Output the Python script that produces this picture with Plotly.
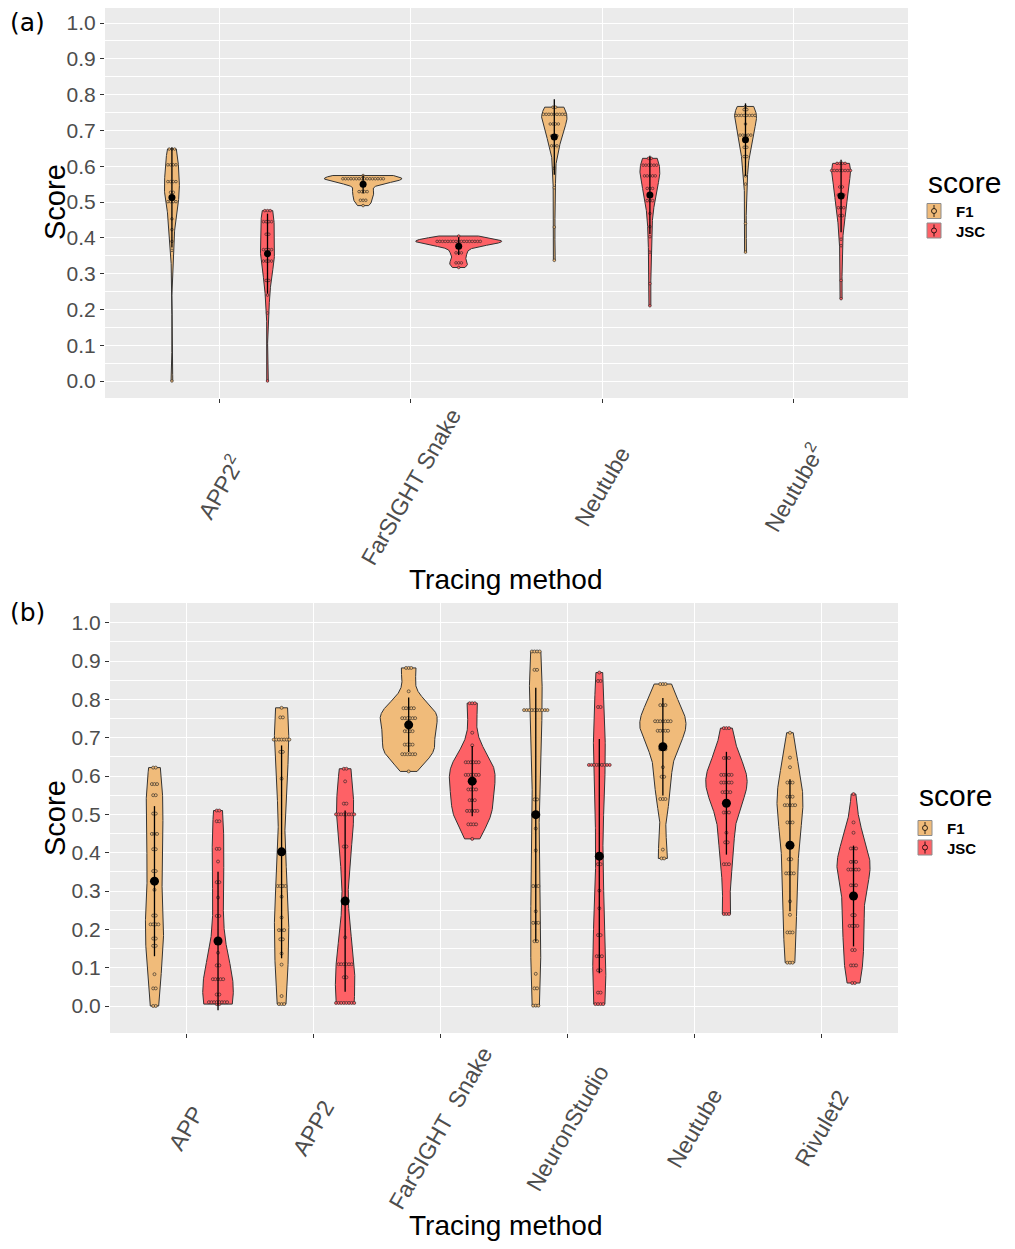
import numpy as np
import plotly.graph_objects as go

# ---------------- data ----------------
SCORES = ["F1", "JSC"]

# Panel (a)
CATS_A = ["APP2<sup>2</sup>", "FarSIGHT Snake", "Neutube", "Neutube<sup>2</sup>"]

A_F1_APP2SQ = [0.648, 0.648, 0.648, 0.604, 0.604, 0.604, 0.604, 0.557, 0.557, 0.557, 0.557,
               0.527, 0.527, 0.501, 0.501, 0.501, 0.501, 0.453, 0.423, 0.39, 0.365, 0.0]
A_F1_FARSIGHT = [0.574, 0.565, 0.565, 0.565, 0.565, 0.565, 0.565, 0.565, 0.565, 0.565, 0.565,
                 0.565, 0.565, 0.565, 0.565, 0.565, 0.565, 0.529, 0.529, 0.529, 0.529,
                 0.505, 0.505, 0.505, 0.49]
A_F1_NEUTUBE = [0.765, 0.765, 0.745, 0.745, 0.745, 0.745, 0.745, 0.745, 0.745, 0.745, 0.745,
                0.718, 0.718, 0.718, 0.718, 0.685, 0.685, 0.685, 0.657, 0.657, 0.657,
                0.594, 0.54, 0.43, 0.337]
A_F1_NEUTUBE2 = [0.767, 0.758, 0.758, 0.742, 0.742, 0.742, 0.742, 0.742, 0.742, 0.742, 0.742,
                 0.718, 0.687, 0.687, 0.687, 0.687, 0.687, 0.653, 0.653, 0.627, 0.627,
                 0.573, 0.55, 0.44, 0.36]

A_JSC_APP2SQ = [0.476, 0.476, 0.476, 0.445, 0.445, 0.445, 0.445, 0.41, 0.41, 0.367, 0.367,
                0.367, 0.367, 0.335, 0.335, 0.335, 0.335, 0.281, 0.281, 0.24, 0.19, 0.0]
A_JSC_FARSIGHT = [0.405, 0.39, 0.39, 0.39, 0.39, 0.39, 0.39, 0.39, 0.39, 0.39, 0.39, 0.39,
                  0.39, 0.39, 0.39, 0.39, 0.39, 0.39, 0.358, 0.358, 0.358, 0.33, 0.33, 0.33, 0.317]
A_JSC_NEUTUBE = [0.622, 0.622, 0.603, 0.603, 0.603, 0.603, 0.603, 0.603, 0.573, 0.573, 0.573,
                 0.573, 0.573, 0.538, 0.538, 0.538, 0.504, 0.504, 0.504, 0.468, 0.431, 0.403,
                 0.36, 0.272, 0.21]
A_JSC_NEUTUBE2 = [0.608, 0.608, 0.608, 0.608, 0.588, 0.588, 0.588, 0.588, 0.588, 0.588, 0.588,
                  0.588, 0.542, 0.542, 0.52, 0.52, 0.52, 0.484, 0.484, 0.484, 0.462, 0.462,
                  0.396, 0.378, 0.281, 0.23]

# Panel (b)
CATS_B = ["APP", "APP2", "FarSIGHT\u00a0 Snake", "NeuronStudio", "Neutube", "Rivulet2"]

B_F1_APP = [0.622, 0.622, 0.579, 0.579, 0.579, 0.55, 0.55, 0.502, 0.502, 0.449, 0.449, 0.449,
            0.409, 0.409, 0.352, 0.352, 0.303, 0.236, 0.236, 0.213, 0.213, 0.213, 0.213,
            0.176, 0.176, 0.157, 0.157, 0.083, 0.046, 0.046, 0.0, 0.0]
B_F1_APP2 = [0.778, 0.753, 0.753, 0.695, 0.695, 0.695, 0.695, 0.695, 0.695, 0.695, 0.663, 0.663,
             0.593, 0.313, 0.313, 0.313, 0.313, 0.285, 0.231, 0.198, 0.198, 0.198, 0.174, 0.174,
             0.137, 0.108, 0.026, 0.005, 0.005, 0.005]
B_F1_FARSIGHT = [0.882, 0.882, 0.882, 0.821, 0.777, 0.777, 0.777, 0.777, 0.777, 0.751, 0.751,
                 0.751, 0.751, 0.751, 0.751, 0.717, 0.717, 0.717, 0.717, 0.682, 0.682, 0.682,
                 0.682, 0.657, 0.657, 0.657, 0.657, 0.657, 0.657, 0.612]
B_F1_NEURONSTUDIO = [0.925, 0.925, 0.925, 0.925, 0.877, 0.877, 0.772, 0.772, 0.772, 0.772, 0.772,
                     0.772, 0.772, 0.772, 0.772, 0.772, 0.539, 0.539, 0.463, 0.406, 0.313, 0.313,
                     0.313, 0.247, 0.217, 0.217, 0.217, 0.169, 0.169, 0.084, 0.046, 0.046,
                     0.001, 0.001, 0.001]
B_F1_NEUTUBE = [0.84, 0.84, 0.84, 0.785, 0.785, 0.785, 0.743, 0.743, 0.743, 0.743, 0.743, 0.743,
                0.743, 0.718, 0.718, 0.718, 0.718, 0.718, 0.67, 0.67, 0.67, 0.623, 0.598, 0.598,
                0.54, 0.54, 0.54, 0.408, 0.385, 0.385]
B_F1_RIVULET2 = [0.713, 0.648, 0.623, 0.583, 0.583, 0.583, 0.546, 0.546, 0.546, 0.524, 0.524,
                 0.524, 0.524, 0.524, 0.479, 0.479, 0.479, 0.383, 0.383, 0.346, 0.346, 0.346,
                 0.346, 0.273, 0.238, 0.192, 0.192, 0.192, 0.113, 0.113, 0.113]

B_JSC_APP = [0.51, 0.51, 0.482, 0.482, 0.41, 0.41, 0.377, 0.323, 0.323, 0.283, 0.235, 0.235,
             0.139, 0.106, 0.106, 0.07, 0.07, 0.07, 0.07, 0.07, 0.03, 0.03, 0.01, 0.01, 0.01,
             0.01, 0.01, 0.01, 0.01, 0.01, 0.005, 0.005]
B_JSC_APP2 = [0.619, 0.619, 0.586, 0.528, 0.528, 0.5, 0.5, 0.5, 0.5, 0.5, 0.5, 0.5, 0.5, 0.416,
              0.416, 0.179, 0.109, 0.109, 0.109, 0.109, 0.109, 0.109, 0.075, 0.075, 0.008,
              0.008, 0.008, 0.008, 0.008, 0.008, 0.008, 0.008]
B_JSC_FARSIGHT = [0.79, 0.79, 0.79, 0.713, 0.68, 0.636, 0.636, 0.636, 0.636, 0.636, 0.636, 0.603,
                  0.603, 0.603, 0.603, 0.603, 0.603, 0.565, 0.565, 0.565, 0.565, 0.537, 0.537,
                  0.537, 0.509, 0.509, 0.509, 0.509, 0.509, 0.474, 0.474, 0.474, 0.474, 0.436]
B_JSC_NEURONSTUDIO = [0.87, 0.848, 0.848, 0.78, 0.78, 0.629, 0.629, 0.629, 0.629, 0.629, 0.629,
                      0.629, 0.629, 0.629, 0.37, 0.37, 0.301, 0.255, 0.185, 0.185, 0.13, 0.13,
                      0.13, 0.093, 0.093, 0.035, 0.035, 0.005, 0.005, 0.005, 0.005]
B_JSC_NEUTUBE = [0.725, 0.725, 0.725, 0.647, 0.647, 0.647, 0.603, 0.603, 0.603, 0.603, 0.603,
                 0.583, 0.583, 0.583, 0.583, 0.583, 0.558, 0.558, 0.558, 0.558, 0.505, 0.505,
                 0.505, 0.452, 0.427, 0.427, 0.37, 0.37, 0.37, 0.24, 0.24, 0.24]
B_JSC_RIVULET2 = [0.553, 0.479, 0.452, 0.411, 0.411, 0.411, 0.376, 0.376, 0.376, 0.356, 0.356,
                  0.356, 0.356, 0.356, 0.315, 0.315, 0.315, 0.237, 0.237, 0.209, 0.209, 0.209,
                  0.209, 0.146, 0.146, 0.106, 0.106, 0.106, 0.06, 0.06]

Y_TICKS = [0.0, 0.1, 0.2, 0.3, 0.4, 0.5, 0.6, 0.7, 0.8, 0.9, 1.0]

# ---------------- style ----------------
FILL = {"F1": "#F0BB7A", "JSC": "#FE6166"}
PAGE_OFF = 8                      # default page body margin
FIG_W, FIG_H = 1015 - 2 * PAGE_OFF, 1249 - 2 * PAGE_OFF
FONT = "Liberation Sans, Arial, sans-serif"
TICK_COLOR = "#4D4D4D"
DODGE = 0.25
VIOLIN_HALF = 0.225
LEG_FONT_SIZE = 15
LEG_STEP = LEG_FONT_SIZE * 1.3    # annotation line spacing


def fx(px):   # page px -> paper x
    return min(1.0, max(0.0, (px - PAGE_OFF) / FIG_W))


def fy(py):   # page px -> paper y
    return min(1.0, max(0.0, 1 - (py - PAGE_OFF) / FIG_H))


PANELS = [
    dict(key="a", cats=CATS_A,
         data={"F1": [A_F1_APP2SQ, A_F1_FARSIGHT, A_F1_NEUTUBE, A_F1_NEUTUBE2],
               "JSC": [A_JSC_APP2SQ, A_JSC_FARSIGHT, A_JSC_NEUTUBE, A_JSC_NEUTUBE2]},
         px=(105, 908), py=(8, 398), yrange=[-0.0475, 1.042], label_y=487,
         dot_px=2.7, dot_size=2.6, mean_size=7, xa="x", ya="y",
         leg=dict(x=927, title_y=183, y1=211, text_x=955),
         tag=("(a)", 23), ytitle_y=202, xtitle_y=580),
    dict(key="b", cats=CATS_B,
         data={"F1": [B_F1_APP, B_F1_APP2, B_F1_FARSIGHT, B_F1_NEURONSTUDIO, B_F1_NEUTUBE, B_F1_RIVULET2],
               "JSC": [B_JSC_APP, B_JSC_APP2, B_JSC_FARSIGHT, B_JSC_NEURONSTUDIO, B_JSC_NEUTUBE, B_JSC_RIVULET2]},
         px=(110, 898), py=(603, 1033), yrange=[-0.0704, 1.0514], label_y=1128,
         dot_px=2.6, dot_size=3.0, mean_size=9, xa="x2", ya="y2",
         leg=dict(x=918, title_y=795, y1=828, text_x=946),
         tag=("(b)", 612), ytitle_y=818, xtitle_y=1225),
]


def nrd0(v):
    v = np.asarray(v, dtype=float)
    n = len(v)
    sd = np.std(v, ddof=1)
    q75, q25 = np.percentile(v, [75, 25])
    lo = min(sd, (q75 - q25) / 1.34)
    if lo <= 0:
        lo = sd if sd > 0 else 1.0
    return 0.9 * lo * n ** (-0.2)


def kde(v, n=512):
    v = np.asarray(v, dtype=float)
    bw = nrd0(v)
    grid = np.linspace(v.min(), v.max(), n)
    dens = np.exp(-0.5 * ((grid[:, None] - v[None, :]) / bw) ** 2).sum(1) / (len(v) * bw * np.sqrt(2 * np.pi))
    return grid, dens


fig = go.Figure()
annotations = []
shapes = []

for p in PANELS:
    ncat = len(p["cats"])
    xrange = [0.4, ncat + 0.6]
    px_per_unit = (p["px"][1] - p["px"][0]) / (xrange[1] - xrange[0])
    d = p["dot_px"] / px_per_unit
    kdes = {s: [kde(v) for v in p["data"][s]] for s in SCORES}
    maxd = max(k[1].max() for s in SCORES for k in kdes[s])
    for s in SCORES:
        off = -DODGE if s == "F1" else DODGE
        for ci, vals in enumerate(p["data"][s]):
            pos = ci + 1 + off
            vals = np.asarray(vals, dtype=float)
            grid, dens = kdes[s][ci]
            w = VIOLIN_HALF * dens / maxd
            vx = np.concatenate([pos - w, (pos + w)[::-1], [pos - w[0]]])
            vy = np.concatenate([grid, grid[::-1], [grid[0]]])
            fig.add_trace(go.Scatter(
                x=vx, y=vy, mode="lines", fill="toself", fillcolor=FILL[s],
                line=dict(color="#333333", width=1), showlegend=False, hoverinfo="skip",
                xaxis=p["xa"], yaxis=p["ya"]))
            # centred dot stacks
            uniq, counts = np.unique(vals, return_counts=True)
            dx, dy = [], []
            for u, k in zip(uniq, counts):
                for j in range(k):
                    dx.append(pos + (j - (k - 1) / 2) * d)
                    dy.append(u)
            fig.add_trace(go.Scatter(
                x=dx, y=dy, mode="markers", showlegend=False, hoverinfo="skip",
                marker=dict(size=p["dot_size"], color=FILL[s],
                            line=dict(color="#222222", width=0.6)),
                xaxis=p["xa"], yaxis=p["ya"]))
            m = vals.mean()
            sd = vals.std(ddof=1)
            fig.add_trace(go.Scatter(
                x=[pos, pos], y=[m - sd, m + sd], mode="lines", showlegend=False,
                hoverinfo="skip", line=dict(color="black", width=1.3),
                xaxis=p["xa"], yaxis=p["ya"]))
            fig.add_trace(go.Scatter(
                x=[pos], y=[m], mode="markers", showlegend=False, hoverinfo="skip",
                marker=dict(size=p["mean_size"], color="black"),
                xaxis=p["xa"], yaxis=p["ya"]))

    xdom = [fx(p["px"][0]), fx(p["px"][1])]
    ydom = [fy(p["py"][1]), fy(p["py"][0])]
    xname = "xaxis" if p["xa"] == "x" else "xaxis2"
    yname = "yaxis" if p["ya"] == "y" else "yaxis2"
    fig.update_layout(**{
        xname: dict(domain=xdom, range=xrange, anchor=p["ya"], tickmode="array",
                    tickvals=list(range(1, ncat + 1)), showticklabels=False,
                    showgrid=True, gridcolor="white", gridwidth=1.1, zeroline=False,
                    ticks="outside", ticklen=4, tickcolor="#333333", tickwidth=1,
                    showline=False),
        yname: dict(domain=ydom, range=p["yrange"], anchor=p["xa"], tickmode="array",
                    tickvals=Y_TICKS, ticktext=["%.1f" % t for t in Y_TICKS],
                    showgrid=True, gridcolor="white", gridwidth=1.1, zeroline=False,
                    minor=dict(tickvals=[t + 0.05 for t in Y_TICKS],
                               showgrid=True, gridcolor="white", gridwidth=0.5, ticks=""),
                    ticks="outside", ticklen=4, tickcolor="#333333", tickwidth=1,
                    tickfont=dict(family=FONT, size=21, color=TICK_COLOR), showline=False),
    })

    # category labels, rotated about their centre (ggplot-style)
    for ci, cat in enumerate(p["cats"]):
        annotations.append(dict(
            text=cat, x=ci + 1, xref=p["xa"], y=fy(p["label_y"]), yref="paper",
            textangle=-60, xanchor="center", yanchor="middle", showarrow=False,
            font=dict(family=FONT, size=23, color=TICK_COLOR)))

    # titles
    annotations.append(dict(text=p["tag"][0], x=fx(5), y=fy(p["tag"][1]), xref="paper",
                            yref="paper", xanchor="left", yanchor="middle", showarrow=False,
                            font=dict(family="DejaVu Sans", size=25, color="black")))
    annotations.append(dict(text="Score", x=fx(55), y=fy(p["ytitle_y"]), xref="paper",
                            yref="paper", textangle=-90, showarrow=False, xanchor="center",
                            yanchor="middle", font=dict(family=FONT, size=29, color="black")))
    annotations.append(dict(text="Tracing method", x=fx(506), y=fy(p["xtitle_y"]),
                            xref="paper", yref="paper", showarrow=False, xanchor="center",
                            yanchor="middle", font=dict(family=FONT, size=28, color="black")))

    # legend (keys drawn as shapes, labels as one text block)
    lg = p["leg"]
    annotations.append(dict(text="score", x=fx(lg["x"] - 1), y=fy(lg["title_y"]), xref="paper",
                            yref="paper", xanchor="left", yanchor="middle", showarrow=False,
                            font=dict(family=FONT, size=30, color="black")))
    for si, s in enumerate(SCORES):
        yc = lg["y1"] + si * LEG_STEP
        x0, x1 = lg["x"], lg["x"] + 14
        shapes.append(dict(type="rect", xref="paper", yref="paper",
                           x0=fx(x0), x1=fx(x1), y0=fy(yc + 7.5), y1=fy(yc - 7.5),
                           fillcolor=FILL[s], line=dict(color="#8C8C8C", width=1)))
        shapes.append(dict(type="line", xref="paper", yref="paper",
                           x0=fx(x0 + 7), x1=fx(x0 + 7), y0=fy(yc + 6), y1=fy(yc - 6),
                           line=dict(color="black", width=0.8)))
        shapes.append(dict(type="circle", xref="paper", yref="paper",
                           x0=fx(x0 + 4.5), x1=fx(x0 + 9.5), y0=fy(yc + 2.5), y1=fy(yc - 2.5),
                           fillcolor=FILL[s], line=dict(color="black", width=0.8)))
    annotations.append(dict(text="<br>".join("<b>%s</b>" % s for s in SCORES),
                            x=fx(lg["text_x"]), y=fy(lg["y1"] + LEG_STEP / 2 + 0.5),
                            xref="paper", yref="paper", xanchor="left", yanchor="middle",
                            align="left", showarrow=False, borderpad=0,
                            font=dict(family=FONT, size=LEG_FONT_SIZE, color="black")))

fig.update_layout(
    width=FIG_W, height=FIG_H,
    margin=dict(l=0, r=0, t=0, b=0),
    paper_bgcolor="white", plot_bgcolor="#EBEBEB",
    font=dict(family=FONT, color="black"),
    showlegend=False,
    annotations=annotations,
    shapes=shapes,
)

fig.write_html("out.html")
